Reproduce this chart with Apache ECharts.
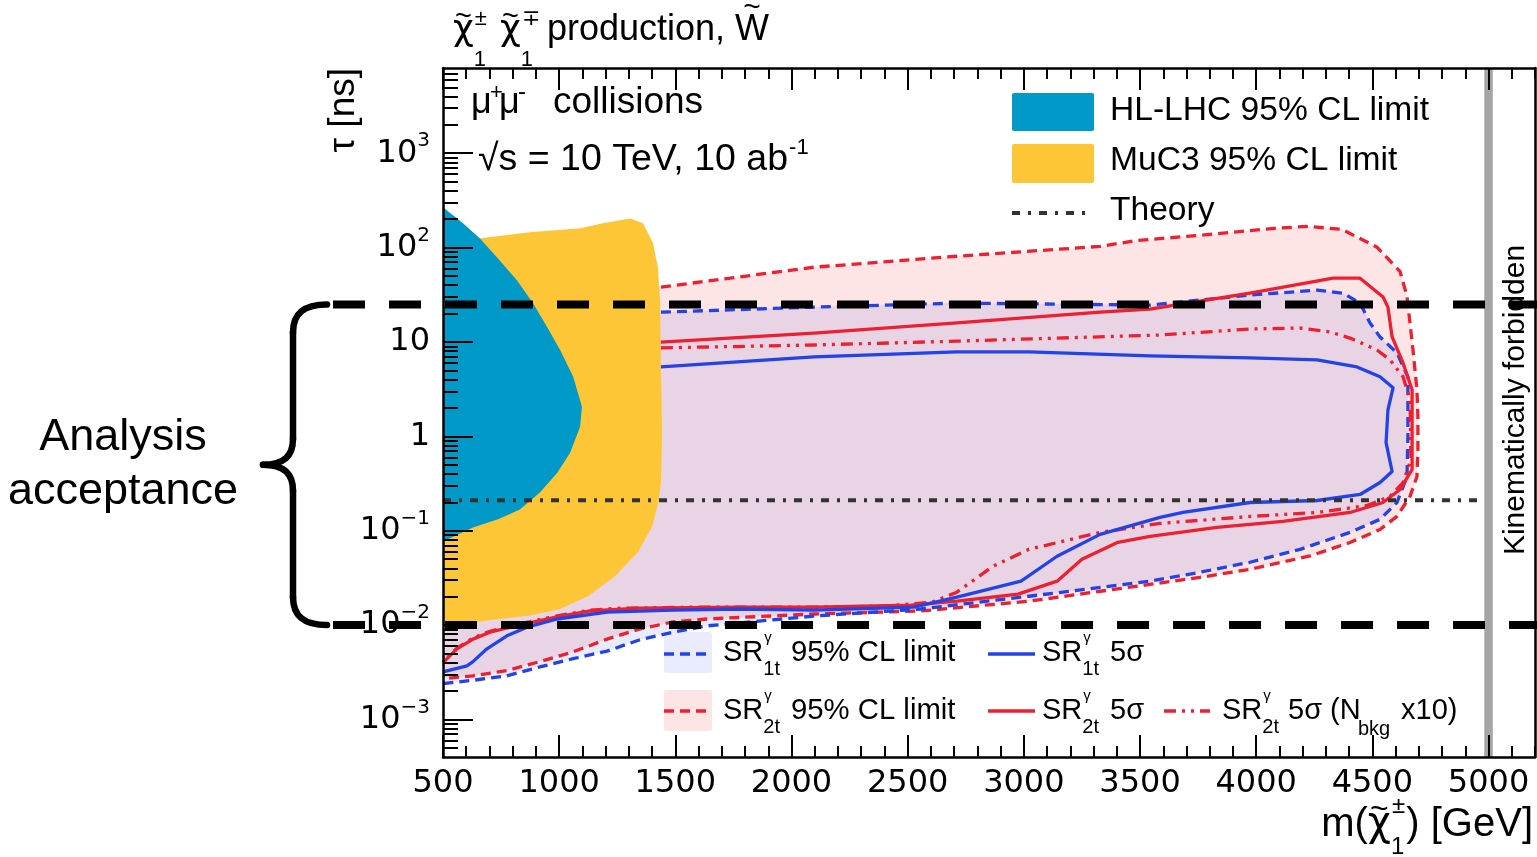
<!DOCTYPE html>
<html>
<head>
<meta charset="utf-8">
<title>Chargino lifetime reach</title>
<script src="https://cdn.jsdelivr.net/npm/echarts@6/dist/echarts.min.js"></script>
<style>
  html, body { margin: 0; padding: 0; background: #fff; }
  #chart { width: 1537px; height: 857px; }
</style>
</head>
<body>
<div id="chart"></div>
<script>
// ---------------------------------------------------------------
// Axis ranges (mass in GeV, lifetime in ns)
// ---------------------------------------------------------------
const X_MIN = 500, X_MAX = 5200;
const TAU_MIN = 4e-4, TAU_MAX = 8000;
const xMajorTicks = [500, 1000, 1500, 2000, 2500, 3000, 3500, 4000, 4500, 5000];
const yDecades = [-3, -2, -1, 0, 1, 2, 3];

// Reference lines
const kinematicLimit = 5000;           // sqrt(s)/2
const acceptanceTau = [25, 0.01];      // analysis acceptance window
const theoryMass = [500, 4970];
const theoryTau = [0.21, 0.21];

// HL-LHC 95% CL excluded region
const hlLhcMass = [500, 586, 659, 732, 818, 887, 948, 1004, 1060, 1098, 1090, 1047, 991, 917, 831, 737, 629, 500];
const hlLhcTau  = [267, 181, 125, 79, 45, 25.8, 14.4, 8.2, 4.3, 2.06, 1.26, 0.67, 0.41, 0.254, 0.168, 0.132, 0.108, 0.077];

// MuC3 95% CL excluded region
const muc3Mass = [500, 651, 874, 1090, 1189, 1305, 1361, 1404, 1425, 1434, 1438, 1443, 1438, 1425, 1400, 1339, 1240, 1124, 1004, 862, 702, 500];
const muc3Tau  = [119, 125, 145, 160, 181, 204, 181, 111, 62, 27.8, 5.4, 1.09, 0.32, 0.19, 0.111, 0.059, 0.033, 0.0202, 0.0148, 0.0125, 0.0113, 0.0095];

// SR2t 95% CL limit contour
const sr2t95Mass = [1438, 2097, 2712, 3328, 3487, 3758, 4077, 4223, 4369, 4520, 4619, 4649, 4675, 4692, 4696, 4696, 4692, 4662, 4606, 4533, 4404, 4232, 3973, 3758, 3543, 3022, 2557, 2097, 1636, 1490, 1348, 1206, 1060, 917, 775, 629, 500];
const sr2t95Tau  = [38.1, 62, 81, 103, 119, 135, 160, 168, 156, 101, 56, 30.6, 8.2, 3.1, 1.61, 0.72, 0.375, 0.231, 0.142, 0.103, 0.075, 0.054, 0.039, 0.032, 0.027, 0.0179, 0.0141, 0.0131, 0.0116, 0.0108, 0.0091, 0.0071, 0.0052, 0.0041, 0.0033, 0.0029, 0.0027];

// SR1t 95% CL limit contour
const sr1t95Mass = [1438, 2097, 2712, 3543, 3973, 4262, 4374, 4447, 4490, 4533, 4606, 4653, 4653, 4649, 4606, 4533, 4404, 4189, 3973, 3758, 3543, 3022, 2557, 2097, 1636, 1490, 1348, 1206, 1060, 917, 775, 629, 500];
const sr1t95Tau  = [20.7, 23.4, 25.8, 24.6, 31.4, 35.4, 32.9, 25.8, 15.9, 11.3, 7.66, 4.27, 0.99, 0.375, 0.199, 0.132, 0.096, 0.0635, 0.0463, 0.0363, 0.0292, 0.0202, 0.0148, 0.01245, 0.0098, 0.0084, 0.0070, 0.0053, 0.0044, 0.0036, 0.0029, 0.0026, 0.0024];

// SR2t 5 sigma discovery contour
const sr2t5sMass = [1438, 2097, 2712, 3328, 3543, 3973, 4331, 4447, 4546, 4567, 4585, 4632, 4671, 4671, 4619, 4546, 4404, 4115, 3831, 3543, 3405, 3250, 3143, 2975, 2712, 2514, 2097, 1778, 1348, 1133, 991, 844, 702, 629, 560, 500];
const sr2t5sTau  = [9.98, 12.4, 15.9, 20.7, 22.3, 32.9, 47.4, 47.4, 29.9, 23.4, 11.3, 6.0, 3.11, 0.445, 0.273, 0.199, 0.156, 0.1255, 0.1084, 0.0871, 0.0753, 0.0498, 0.0292, 0.0213, 0.0179, 0.0163, 0.0155, 0.0155, 0.0151, 0.0141, 0.0122, 0.0102, 0.0084, 0.0071, 0.0056, 0.0040];

// SR1t 5 sigma discovery contour
const sr1t5sMass = [1438, 2097, 2712, 3022, 3543, 3973, 4262, 4434, 4533, 4589, 4567, 4559, 4585, 4533, 4447, 4262, 3973, 3685, 3586, 3328, 3143, 2988, 2712, 2527, 2097, 1778, 1490, 1206, 991, 862, 775, 689, 629, 603, 500];
const sr1t5sTau  = [5.44, 6.95, 7.84, 7.84, 7.11, 6.78, 6.46, 5.44, 4.27, 3.27, 1.91, 0.857, 0.424, 0.324, 0.242, 0.209, 0.199, 0.156, 0.1383, 0.0915, 0.0536, 0.0292, 0.0198, 0.0155, 0.0144, 0.0148, 0.0144, 0.0137, 0.0116, 0.0095, 0.0077, 0.0056, 0.0041, 0.0037, 0.0032];

// SR2t 5 sigma contour with ten times the background
const sr2t5sBkgMass = [1438, 2097, 2712, 3586, 3973, 4189, 4318, 4404, 4520, 4576, 4632, 4662, 4666, 4632, 4576, 4477, 4262, 3973, 3586, 3328, 3022, 2867, 2712, 2605, 2407, 2097, 1606, 1262, 1133, 991, 844, 702, 629, 560, 500];
const sr2t5sBkgTau  = [8.65, 9.29, 10.2, 11.85, 13.7, 14.06, 12.76, 11.0, 8.23, 6.46, 4.27, 2.44, 0.567, 0.324, 0.231, 0.185, 0.156, 0.1416, 0.1195, 0.096, 0.0635, 0.042, 0.0223, 0.0175, 0.0159, 0.0155, 0.0155, 0.0151, 0.0144, 0.0125, 0.0105, 0.0086, 0.0073, 0.0057, 0.0041];

// ---------------------------------------------------------------
// Styling
// ---------------------------------------------------------------
const TEXT_FONT = 'Liberation Sans';
const NUM_FONT = 'DejaVu Sans';
const C_HL = '#0199c7';
const C_MUC = '#fdc636';
const C_BLUE = '#2343e6';
const C_RED = '#ec2030';
const FILL_RED = 'rgba(245,20,20,0.11)';
const FILL_BLUE = 'rgba(20,40,230,0.09)';
const DASH = [10, 6];
const DASH_DOT_DOT = [12, 6, 3, 6, 3, 6];
const DASH_DOT = [8, 8, 3, 8];

// The lifetime axis is drawn in log10 units
const lg = Math.log10;
const Y_LOG_MIN = lg(TAU_MIN), Y_LOG_MAX = lg(TAU_MAX);
const toPts = (mass, tau) => mass.map((m, i) => [m, lg(tau[i])]);
// closes a contour along the left edge, underneath the earlier limits
const closedLeft = (mass, tau) => toPts(mass, tau).concat([[X_MIN, lg(tau[0])]]);

const xMinorTicks = [];
for (let m = X_MIN; m <= X_MAX; m += 100) if (m % 500 !== 0) xMinorTicks.push(m);
const yMinorTicks = [];
for (let n = -4; n <= 3; n++) {
  for (let k = 2; k <= 9; k++) {
    const v = n + lg(k);
    if (v > Y_LOG_MIN && v < Y_LOG_MAX) yMinorTicks.push(v);
  }
}

function areaSeries(name, pts, color, z) {
  return {
    type: 'custom', name, z, silent: true, clip: true,
    data: [pts[0]],
    renderItem: (params, api) => ({
      type: 'polygon',
      shape: { points: pts.map(p => api.coord(p)) },
      style: { fill: color }
    })
  };
}
function lineSeries(name, pts, color, width, dash, z) {
  return {
    type: 'line', name, z, data: pts, symbol: 'none', showSymbol: false,
    silent: true, clip: true, emphasis: { disabled: true },
    lineStyle: { color, width, type: dash || 'solid', cap: 'butt', join: 'round' }
  };
}

const tickStyle = { color: '#000', width: 2 };
function xAxisDef(position, ticks, len, withLine, withLabels) {
  return {
    type: 'value', min: X_MIN, max: X_MAX, position, z: 10,
    splitLine: { show: false },
    axisLine: { show: withLine, onZero: false, lineStyle: { color: '#000', width: 2.5 } },
    axisTick: { show: true, inside: true, length: len, customValues: ticks, lineStyle: tickStyle },
    axisLabel: withLabels ? {
      show: true, customValues: ticks, fontFamily: NUM_FONT, fontSize: 32, color: '#000', margin: 11,
      formatter: v => String(Math.round(v))
    } : { show: false }
  };
}
function yAxisDef(position, ticks, len, withLine, withLabels) {
  return {
    type: 'value', min: Y_LOG_MIN, max: Y_LOG_MAX, position, z: 10,
    splitLine: { show: false },
    axisLine: { show: withLine, onZero: false, lineStyle: { color: '#000', width: 2.5 } },
    axisTick: { show: ticks.length > 0, inside: true, length: len, customValues: ticks, lineStyle: tickStyle },
    axisLabel: withLabels ? {
      show: true, customValues: ticks, color: '#000', margin: 13,
      formatter: v => {
        const n = Math.round(v);
        if (n === 0) return '{b|1}';
        if (n === 1) return '{b|10}';
        return '{b|10}{s|' + (n < 0 ? '\u2212' : '') + Math.abs(n) + '}';
      },
      rich: {
        b: { fontFamily: NUM_FONT, fontSize: 32, lineHeight: 44, color: '#000' },
        s: { fontFamily: NUM_FONT, fontSize: 20, lineHeight: 20, verticalAlign: 'top', color: '#000' }
      }
    } : { show: false }
  };
}

const chart = echarts.init(document.getElementById('chart'), null, { renderer: 'canvas' });

chart.setOption({
  animation: false,
  backgroundColor: '#fff',
  grid: { left: 443, right: 2, top: 68, bottom: 100, show: false, outerBoundsMode: 'none' },
  xAxis: [
    xAxisDef('bottom', xMajorTicks, 22, true, true),
    xAxisDef('bottom', xMinorTicks, 11, false, false),
    xAxisDef('top', xMajorTicks, 22, true, false),
    xAxisDef('top', xMinorTicks, 11, false, false)
  ],
  yAxis: [
    yAxisDef('left', yDecades, 30, true, true),
    yAxisDef('left', yMinorTicks, 15, false, false),
    yAxisDef('right', [], 0, true, false)
  ],
  series: [
    areaSeries('SR2t 95% CL area', closedLeft(sr2t95Mass, sr2t95Tau), FILL_RED, 1),
    areaSeries('SR1t 95% CL area', closedLeft(sr1t95Mass, sr1t95Tau), FILL_BLUE, 1),
    areaSeries('MuC3 95% CL limit', toPts(muc3Mass, muc3Tau), C_MUC, 2),
    areaSeries('HL-LHC 95% CL limit', toPts(hlLhcMass, hlLhcTau), C_HL, 2),
    lineSeries('SR2t 95% CL limit', toPts(sr2t95Mass, sr2t95Tau), C_RED, 3.3, DASH, 3),
    lineSeries('SR1t 95% CL limit', toPts(sr1t95Mass, sr1t95Tau), C_BLUE, 3.3, DASH, 3),
    lineSeries('SR2t 5 sigma (Nbkg x10)', toPts(sr2t5sBkgMass, sr2t5sBkgTau), C_RED, 3.3, DASH_DOT_DOT, 3),
    lineSeries('SR2t 5 sigma', toPts(sr2t5sMass, sr2t5sTau), C_RED, 3.3, null, 3),
    lineSeries('SR1t 5 sigma', toPts(sr1t5sMass, sr1t5sTau), C_BLUE, 3.3, null, 3),
    lineSeries('Theory', toPts(theoryMass, theoryTau), '#333333', 4, DASH_DOT, 4),
    lineSeries('Kinematic limit', [[kinematicLimit, Y_LOG_MIN], [kinematicLimit, Y_LOG_MAX]], '#a5a5a5', 8.5, null, 4)
  ]
});

// ---------------------------------------------------------------
// Annotations: text, legends, acceptance window
// ---------------------------------------------------------------
const MID = 0.35; // canvas "middle" line above the alphabetic baseline, in em
const measureCtx = document.createElement('canvas').getContext('2d');
function textWidth(str, size, family) {
  measureCtx.font = size + 'px "' + (family || TEXT_FONT) + '"';
  return measureCtx.measureText(str).width;
}
function lbl(x, baseline, text, size, o) {
  o = o || {};
  return {
    type: 'text', x, y: baseline - MID * size, z: 100, silent: true,
    style: {
      text, fill: '#000', font: size + 'px "' + (o.family || TEXT_FONT) + '"',
      align: o.align || 'left', verticalAlign: 'middle'
    }
  };
}
// a tilde accent centred at (cx, cy)
function tilde(cx, cy, size) {
  return {
    type: 'text', x: cx, y: cy, z: 100, silent: true,
    style: { text: '~', fill: '#000', font: size + 'px "' + TEXT_FONT + '"', align: 'center', verticalAlign: 'middle' }
  };
}
function rotLbl(x, y, text, size, align) {
  return {
    type: 'text', x, y, rotation: Math.PI / 2, z: 100, silent: true,
    style: { text, fill: '#000', font: size + 'px "' + TEXT_FONT + '"', align, verticalAlign: 'middle' }
  };
}
function hLine(x1, x2, y, color, width, dash) {
  return {
    type: 'line', z: 100, silent: true,
    shape: { x1, y1: y, x2, y2: y },
    style: { stroke: color, lineWidth: width, lineDash: dash || null }
  };
}
function box(x, y, w, h, fill) {
  return { type: 'rect', z: 99, silent: true, shape: { x, y, width: w, height: h, r: 2 }, style: { fill } };
}
// "SR" with a gamma superscript stacked over a region subscript
function srLabel(x, baseline, region, size) {
  const w = textWidth('SR', size);
  return [
    lbl(x, baseline, 'SR', size),
    lbl(x + w + 1, baseline - 20, '\u03b3', 15),
    lbl(x + w, baseline + 13, region, 20)
  ];
}
// chargino symbol: chi with tilde, stacked charge superscript and "1" subscript
function chargino(x, baseline, size, charge, scr, up, down) {
  const w = textWidth('\u03c7', size, NUM_FONT);
  return {
    width: w,
    els: [
      lbl(x, baseline, '\u03c7', size, { family: NUM_FONT }),
      tilde(x + w * 0.5, baseline - 0.73 * size, size * 0.8),
      lbl(x + w + 1, baseline - up, charge, scr),
      lbl(x + w, baseline + down, '1', scr)
    ]
  };
}

const els = [];

// Title
els.push(...chargino(453, 43, 36, '\u00b1', 22, 16, 25).els);
els.push(...chargino(500, 43, 36, '\u2213', 22, 16, 25).els);
const titleText = 'production, W';
els.push(lbl(547, 43, titleText, 36));
{
  const wW = textWidth('W', 36);
  els.push(tilde(547 + textWidth(titleText, 36) - wW / 2, 8, 30));
}

// Collider information
els.push(lbl(471, 116, '\u03bc', 36));
els.push(lbl(490, 101, '+', 22));
els.push(lbl(499, 116, '\u03bc', 36));
els.push(lbl(518, 101, '-', 24));
els.push(lbl(553, 116, 'collisions', 37));
const energyText = '\u221as = 10 TeV, 10 ab';
els.push(lbl(478, 173, energyText, 37.5));
els.push(lbl(478 + textWidth(energyText, 37.5) + 1, 156, '-1', 22));

// Upper legend
els.push(box(1012, 93, 82, 38, C_HL));
els.push(lbl(1110, 122, 'HL-LHC 95% CL limit', 33.6));
els.push(box(1012, 144, 82, 39, C_MUC));
els.push(lbl(1110, 172, 'MuC3 95% CL limit', 33.6));
els.push(hLine(1012, 1090, 213, '#333333', 4, DASH_DOT));
els.push(lbl(1110, 222, 'Theory', 33.6));

// Lower legend, first row
els.push(box(664, 632, 48, 41, FILL_BLUE));
els.push(hLine(664, 712, 654, C_BLUE, 3.3, DASH));
els.push(...srLabel(723, 663, '1t', 29));
els.push(lbl(791, 663, '95% CL limit', 29.3));
els.push(hLine(988, 1035, 654, C_BLUE, 3.3));
els.push(...srLabel(1042, 663, '1t', 29));
els.push(lbl(1110, 663, '5\u03c3', 29));

// Lower legend, second row
els.push(box(664, 690, 48, 41, FILL_RED));
els.push(hLine(664, 712, 711, C_RED, 3.3, DASH));
els.push(...srLabel(723, 721, '2t', 29));
els.push(lbl(791, 721, '95% CL limit', 29.3));
els.push(hLine(988, 1035, 711, C_RED, 3.3));
els.push(...srLabel(1042, 721, '2t', 29));
els.push(lbl(1110, 721, '5\u03c3', 29));
els.push(hLine(1164, 1210, 711, C_RED, 3.3, DASH_DOT_DOT));
els.push(...srLabel(1222, 721, '2t', 29));
els.push(lbl(1288, 721, '5\u03c3 (N', 29));
els.push(lbl(1358, 736, 'bkg', 20));
els.push(lbl(1401, 721, 'x10)', 29));

// Axis titles
els.push(rotLbl(344, 68, '\u03c4 [ns]', 37, 'right'));
{
  const size = 40, scr = 24, base = 839;
  const a = 'm(', b = ') [GeV]';
  const wa = textWidth(a, size);
  const wChi = textWidth('\u03c7', size, NUM_FONT);
  const ws = Math.max(textWidth('\u00b1', scr), textWidth('1', scr));
  const wb = textWidth(b, size);
  const x0 = 1533 - (wa + wChi + ws + 2 + wb);
  els.push(lbl(x0, base, a, size));
  els.push(...chargino(x0 + wa, base, size, '\u00b1', scr, 24, 17).els);
  els.push(lbl(x0 + wa + wChi + ws + 2, base, b, size));
}

// Kinematic limit label
els.push(rotLbl(1516, 400, 'Kinematically forbidden', 30, 'center'));

// Analysis acceptance window: dashed bounds and brace
const yUp = chart.convertToPixel({ yAxisIndex: 0 }, lg(acceptanceTau[0]));
const yLo = chart.convertToPixel({ yAxisIndex: 0 }, lg(acceptanceTau[1]));
els.push(hLine(333, 1537, yUp, '#000', 8, [32, 24]));
els.push(hLine(333, 1537, yLo, '#000', 8, [32, 24]));
const ym = (yUp + yLo) / 2;
const braceStyle = { stroke: '#000', lineWidth: 6.5, fill: null, lineCap: 'round' };
const braceParts = [
  { type: 'bezierCurve', shape: { x1: 327, y1: yUp, cpx1: 305, cpy1: yUp, cpx2: 293, cpy2: yUp + 8, x2: 293, y2: yUp + 28 } },
  { type: 'line', shape: { x1: 293, y1: yUp + 28, x2: 293, y2: ym - 26 } },
  { type: 'bezierCurve', shape: { x1: 293, y1: ym - 26, cpx1: 293, cpy1: ym - 10, cpx2: 285, cpy2: ym, x2: 263, y2: ym } },
  { type: 'bezierCurve', shape: { x1: 263, y1: ym, cpx1: 285, cpy1: ym, cpx2: 293, cpy2: ym + 10, x2: 293, y2: ym + 26 } },
  { type: 'line', shape: { x1: 293, y1: ym + 26, x2: 293, y2: yLo - 28 } },
  { type: 'bezierCurve', shape: { x1: 293, y1: yLo - 28, cpx1: 293, cpy1: yLo - 8, cpx2: 305, cpy2: yLo, x2: 327, y2: yLo } }
];
braceParts.forEach(p => els.push(Object.assign({ z: 100, silent: true, style: braceStyle }, p)));
els.push(lbl(123, 453, 'Analysis', 45, { align: 'center' }));
els.push(lbl(123, 507, 'acceptance', 45, { align: 'center' }));

chart.setOption({ graphic: els });
</script>
</body>
</html>
